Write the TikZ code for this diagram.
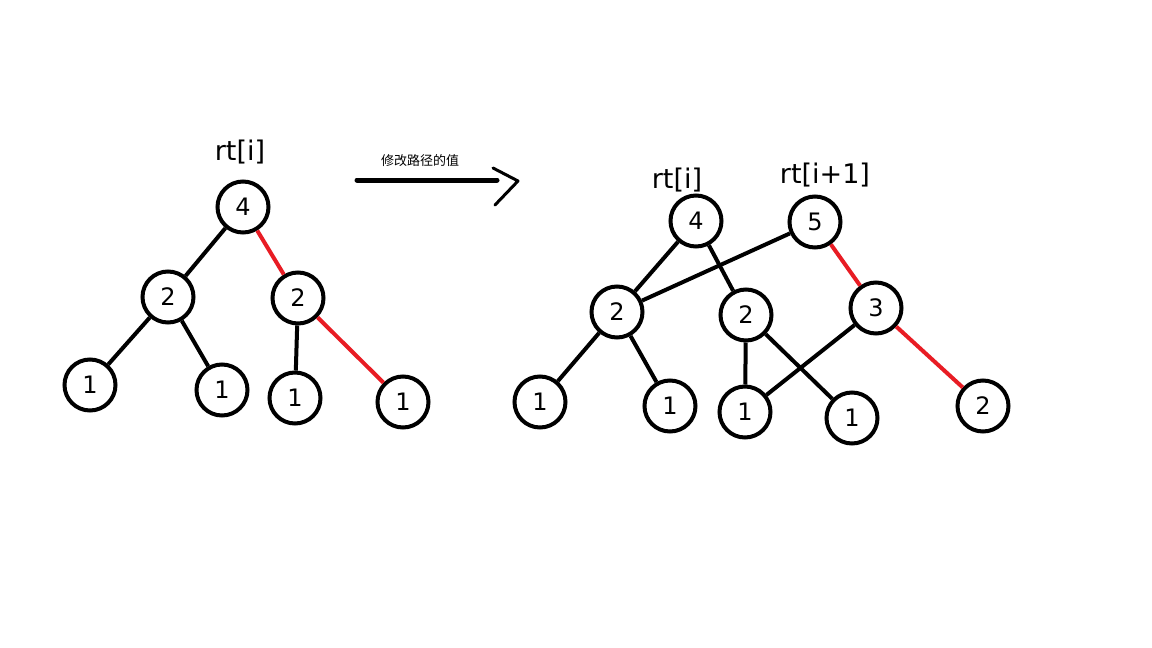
\documentclass[tikz,border=0pt]{standalone}
\usepackage{fontspec}
\setmainfont{DejaVu Sans}
\newfontfamily\cjk{Noto Sans CJK SC}
\definecolor{penred}{RGB}{232,28,36}
\begin{document}
\begin{tikzpicture}[x=1pt,y=-1pt,
  nd/.style={circle,draw=black,line width=4pt,minimum size=51pt,inner sep=0pt,font=\fontsize{24}{24}\selectfont},
  edge/.style={line width=4pt,black},
  redge/.style={line width=4pt,penred},
  lbl/.style={font=\fontsize{27}{27}\selectfont,inner sep=0pt}]
\useasboundingbox[fill=white] (0,0) rectangle (1152,648);
% left tree
\node[nd] (A) at (243,207) {4};
\node[nd] (B) at (168,297) {2};
\node[nd] (C) at (298,298) {2};
\node[nd] (D) at (90,385) {1};
\node[nd] (E) at (222,390) {1};
\node[nd] (F) at (295,398) {1};
\node[nd] (G) at (403,402) {1};
\node[lbl] (la) at (240,152) {rt[i]};
\draw[edge] (A) -- (B);
\draw[redge] (A) -- (C);
\draw[edge] (B) -- (D);
\draw[edge] (B) -- (E);
\draw[edge] (C) -- (F);
\draw[redge] (C) -- (G);
% arrow
\coordinate (s) at (357,180);
\coordinate (t) at (497,180);
\coordinate (h1) at (493,168);
\coordinate (h2) at (518,181);
\coordinate (h3) at (495,205);
\draw[line width=5pt,line cap=round] (s) -- (t);
\draw[line width=3pt,line cap=round,line join=round] (h1) -- (h2) -- (h3);
\node[font=\cjk\fontsize{13}{13}\selectfont,inner sep=0pt] (cap) at (420,161) {修改路径的值};
% right tree
\node[nd] (R1) at (696,221) {4};
\node[nd] (R2) at (815,222) {5};
\node[nd] (P) at (617,312) {2};
\node[nd] (Q) at (746,315) {2};
\node[nd] (S) at (876,308) {3};
\node[nd] (L1) at (540,402) {1};
\node[nd] (L2) at (670,406) {1};
\node[nd] (L3) at (745,412) {1};
\node[nd] (L4) at (852,418) {1};
\node[nd] (L5) at (983,406) {2};
\node[lbl] (lb) at (677,180) {rt[i]};
\node[lbl] (lc) at (825,175) {rt[i+1]};
\draw[edge] (R1) -- (P);
\draw[edge] (R1) -- (Q);
\draw[edge] (R2) -- (P);
\draw[redge] (R2) -- (S);
\draw[edge] (P) -- (L1);
\draw[edge] (P) -- (L2);
\draw[edge] (Q) -- (L3);
\draw[edge] (Q) -- (L4);
\draw[edge] (S) -- (L3);
\draw[redge] (S) -- (L5);
\end{tikzpicture}
\end{document}
